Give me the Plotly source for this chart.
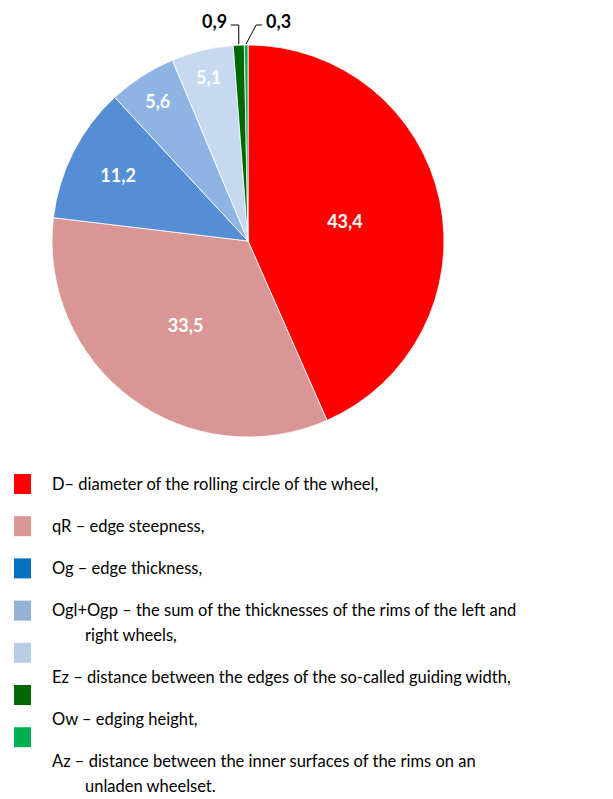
import math
import plotly.graph_objects as go

# slice values (%) and colours, clockwise from 12 o'clock
values = [43.4, 33.5, 11.2, 5.6, 5.1, 0.9, 0.3]
slice_colors = ['#FF0000', '#D99694', '#558ED5', '#8EB4E3', '#C6D9F1', '#006600', '#00B050']

# legend (as printed under the chart)
legend_colors = ['#FF0000', '#D99694', '#0070C0', '#95B3D7', '#B8CCE4', '#006600', '#00B050']
legend_texts = [
    ['D– diameter of the rolling circle of the wheel,'],
    ['qR – edge steepness,'],
    ['Og – edge thickness,'],
    ['Ogl+Ogp – the sum of the thicknesses of the rims of the left and', 'right wheels,'],
    ['Ez – distance between the edges of the so-called guiding width,'],
    ['Ow – edging height,'],
    ['Az – distance between the inner surfaces of the rims on an', 'unladen wheelset.'],
]

W, H = 613, 799
FONT = 'Lato'

labels = [f'{v:.1f}'.replace('.', ',') for v in values]
small = [v < 2 for v in values]

# pie geometry in pixels
cx, cy, r = 248, 241, 196

fig = go.Figure(go.Pie(
    values=values,
    text=labels,
    textinfo='text',
    textposition=['none' if s else 'inside' for s in small],
    insidetextorientation='horizontal',
    textfont=dict(family=FONT, size=18, color='white', weight='bold'),
    marker=dict(colors=slice_colors, line=dict(color='white', width=0.8)),
    sort=False,
    direction='clockwise',
    rotation=0,
    domain=dict(x=[(cx - r) / W, (cx + r) / W], y=[1 - (cy + r) / H, 1 - (cy - r) / H]),
    showlegend=False,
    hoverinfo='skip',
))

annotations = []
shapes = []

# leader-line labels for the two thin slices, positioned from the data
total = sum(values)
cum = 0
side = -1
for v, lab, s in zip(values, labels, small):
    mid = (cum + v / 2) / total * 2 * math.pi
    cum += v
    if not s:
        continue
    px = cx + r * math.sin(mid)
    py = cy - r * math.cos(mid)
    ty = 25
    if side < 0:
        elbow = (px, ty)
        end = (px - 8, ty)
        annotations.append(dict(x=(end[0] - 2) / W, y=1 - (ty - 4) / H, xref='paper', yref='paper',
                                text=f'<b>{lab}</b>', showarrow=False, xanchor='right', yanchor='middle',
                                font=dict(family=FONT, size=18, color='black')))
    else:
        elbow = (px + 10, ty)
        end = (px + 16, ty)
        annotations.append(dict(x=(end[0] + 2) / W, y=1 - (ty - 4) / H, xref='paper', yref='paper',
                                text=f'<b>{lab}</b>', showarrow=False, xanchor='left', yanchor='middle',
                                font=dict(family=FONT, size=18, color='black')))
    shapes.append(dict(type='path', xref='paper', yref='paper',
                       path=f'M {px / W},{1 - (py - 1) / H} L {elbow[0] / W},{1 - elbow[1] / H} '
                            f'L {end[0] / W},{1 - end[1] / H}',
                       line=dict(color='black', width=1)))
    side = -side

# legend markers
for i, c in enumerate(legend_colors):
    y0 = 474 + i * 42.2
    shapes.append(dict(type='rect', xref='paper', yref='paper',
                       x0=14 / W, x1=31 / W, y0=1 - (y0 + 20) / H, y1=1 - y0 / H,
                       fillcolor=c, line=dict(width=0)))

# legend text
y = 484
for lines in legend_texts:
    for j, t in enumerate(lines):
        annotations.append(dict(x=(50 if j == 0 else 83) / W, y=1 - y / H, xref='paper', yref='paper',
                                text=t, showarrow=False, xanchor='left', yanchor='middle',
                                font=dict(family=FONT, size=16.5, color='black')))
        y += 25 if j < len(lines) - 1 else 42

fig.update_layout(
    width=W, height=H,
    margin=dict(l=0, r=0, t=0, b=0),
    paper_bgcolor='white',
    plot_bgcolor='white',
    annotations=annotations,
    shapes=shapes,
)

fig.write_html('out.html', config={'displayModeBar': False},
               post_script="document.body.style.margin='0';")
